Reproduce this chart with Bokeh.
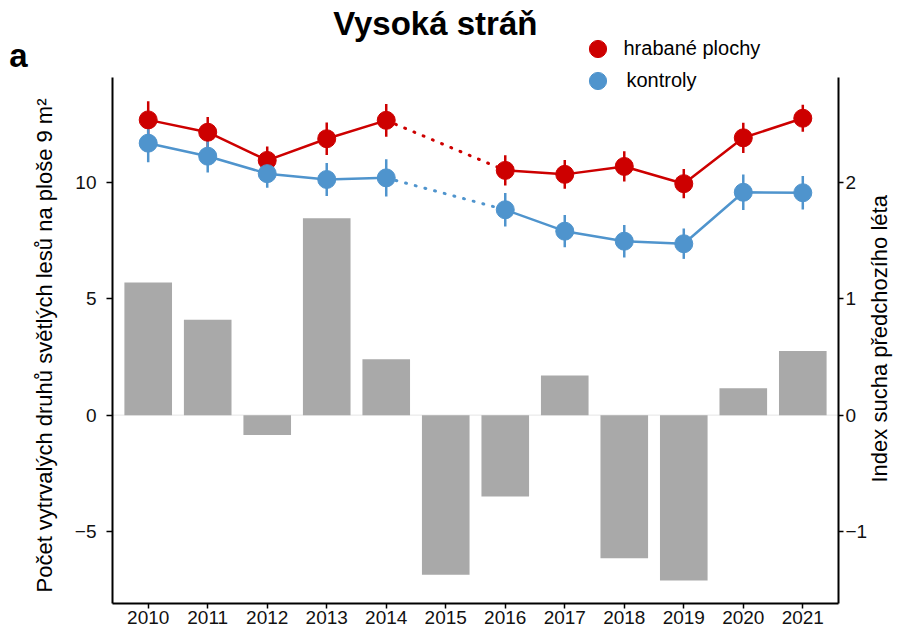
import math
from bokeh.plotting import figure
from bokeh.models import (Range1d, LinearAxis, FixedTicker, Span, Label,
                          Legend, LegendItem)
from bokeh.embed import file_html
from bokeh.resources import INLINE

# ---------------- data ----------------
years = [2010, 2011, 2012, 2013, 2014, 2015, 2016, 2017, 2018, 2019, 2020, 2021]
drought_index = [1.14, 0.82, -0.17, 1.69, 0.48, -1.37, -0.70, 0.34, -1.23, -1.42, 0.23, 0.55]

obs_years = [2010, 2011, 2012, 2013, 2014, 2016, 2017, 2018, 2019, 2020, 2021]
raked_mean = [12.68, 12.15, 10.94, 11.87, 12.66, 10.51, 10.34, 10.68, 9.94, 11.91, 12.75]
raked_err = [0.80, 0.65, 0.60, 0.70, 0.70, 0.65, 0.62, 0.65, 0.63, 0.65, 0.58]
control_mean = [11.68, 11.12, 10.37, 10.12, 10.19, 8.82, 7.90, 7.47, 7.36, 9.57, 9.55]
control_err = [0.82, 0.70, 0.60, 0.71, 0.80, 0.72, 0.69, 0.70, 0.65, 0.76, 0.72]

left_ticks = [-5, 0, 5, 10]
right_ticks = [-1, 0, 1, 2]
gap_index = 4  # last observation before the missing year 2015

LEFT_TITLE = "Počet vytrvalých druhů světlých lesů na ploše 9 m²"
RIGHT_TITLE = "Index sucha předchozího léta"

# ---------------- style / geometry ----------------
FONT = "Liberation Sans"
RED = "#cd0000"
BLUE = "#4f94cd"
BAR = "#a9a9a9"
RATIO = 5.0

W, H = 907, 632
FL, FR, FT, FB = 112, 843, 0, 603        # plot frame in page pixels
AX_TOP = 77                              # where the axis lines end
X0, X1 = 2009.4, 2021.6
Y0, YTOP = -8.09, 14.5                   # data span of the axes
px_y = (FB - AX_TOP) / (YTOP - Y0)
Y1 = YTOP + (AX_TOP - FT) / px_y         # frame extends above the axes for title/legend
px_x = (FR - FL) / (X1 - X0)

def page_x(px):
    return X0 + (px - FL) / px_x

def page_y(py):
    return Y0 + (FB - py) / px_y

p = figure(width=W, height=H, x_range=Range1d(X0, X1), y_range=Range1d(Y0, Y1),
           title=None, output_backend="svg", toolbar_location=None,
           min_border_left=FL, min_border_right=W - FR, min_border_top=FT,
           min_border_bottom=H - FB)
p.extra_y_ranges = {"idx": Range1d(Y0 / RATIO, Y1 / RATIO)}
p.outline_line_color = None
p.xgrid.visible = False
p.ygrid.visible = False
p.background_fill_color = "white"
p.border_fill_color = "white"

# zero line
p.add_layout(Span(location=0, dimension="width", line_color="#e5e5e5",
                  line_width=1, level="underlay"))

# drought bars
p.vbar(x=years, top=drought_index, width=0.8, bottom=0, y_range_name="idx",
       fill_color=BAR, line_color=None)

# error bars
def lo_hi(m, e):
    return [a - b for a, b in zip(m, e)], [a + b for a, b in zip(m, e)]

r_lo, r_hi = lo_hi(raked_mean, raked_err)
c_lo, c_hi = lo_hi(control_mean, control_err)
p.segment(x0=obs_years, y0=r_lo, x1=obs_years, y1=r_hi, line_color=RED, line_width=2.5)
p.segment(x0=obs_years, y0=c_lo, x1=obs_years, y1=c_hi, line_color=BLUE, line_width=2.5)

# lines (solid where consecutive years exist, dotted across the missing year)
for mean, col in ((raked_mean, RED), (control_mean, BLUE)):
    p.line(obs_years[:gap_index + 1], mean[:gap_index + 1], line_color=col, line_width=2.5)
    p.line(obs_years[gap_index + 1:], mean[gap_index + 1:], line_color=col, line_width=2.5)
    p.line(obs_years[gap_index:gap_index + 2], mean[gap_index:gap_index + 2],
           line_color=col, line_width=3, line_dash="1 9", line_cap="round")

# points
r_pts = p.scatter(obs_years, raked_mean, size=18, fill_color=RED, line_color=RED)
c_pts = p.scatter(obs_years, control_mean, size=18, fill_color=BLUE, line_color=BLUE)

# ---------------- axes ----------------
def style_axis(ax):
    ax.axis_line_width = 2
    ax.axis_line_color = "black"
    ax.major_tick_line_width = 1.5
    ax.major_tick_line_color = "black"
    ax.major_tick_out = 6
    ax.major_tick_in = 0
    ax.minor_tick_line_color = None
    ax.major_label_text_font = FONT
    ax.major_label_text_font_size = "19px"
    ax.major_label_text_color = "#111111"

def text_axis(ax, size, style="normal", standoff=0):
    ax.axis_line_color = None
    ax.major_tick_line_color = None
    ax.minor_tick_line_color = None
    ax.major_tick_out = 0
    ax.major_tick_in = 0
    ax.major_label_standoff = standoff
    ax.major_label_text_font = FONT
    ax.major_label_text_font_size = size
    ax.major_label_text_font_style = style
    ax.major_label_text_color = "black"

xa = p.xaxis[0]
xa.ticker = FixedTicker(ticks=years)
xa.major_label_overrides = {y: str(y) for y in years}
style_axis(xa)
xa.major_label_standoff = 2
xa.major_tick_out = 5

ya = p.yaxis[0]
ya.ticker = FixedTicker(ticks=left_ticks)
ya.major_label_overrides = {t: str(t).replace("-", "\u2212") for t in left_ticks}
ya.bounds = (Y0, YTOP)
style_axis(ya)
ya.major_label_standoff = 10

ra = LinearAxis(y_range_name="idx", ticker=FixedTicker(ticks=right_ticks),
                bounds=(Y0 / RATIO, YTOP / RATIO))
ra.major_label_overrides = {t: str(t).replace("-", "\u2212") for t in right_ticks}
style_axis(ra)
ra.major_tick_out = 5
ra.major_label_standoff = 2
p.add_layout(ra, "right")

# left axis title (rotated, centred on the axis span)
ly = round(page_y(345), 3)
lt = LinearAxis(ticker=FixedTicker(ticks=[ly]), major_label_overrides={ly: LEFT_TITLE})
text_axis(lt, "22px", standoff=14)
lt.major_label_orientation = "vertical"
p.add_layout(lt, "left")

# panel letter
a_pos = round(page_y(55), 3)
pa = LinearAxis(ticker=FixedTicker(ticks=[a_pos]), major_label_overrides={a_pos: "a"})
text_axis(pa, "33px", style="bold", standoff=2)
p.add_layout(pa, "left")

# right axis title (rotated, reading upwards from its start)
ry = round(page_y(482), 3)
rt = LinearAxis(ticker=FixedTicker(ticks=[ry]), major_label_overrides={ry: RIGHT_TITLE})
text_axis(rt, "22px", standoff=9)
rt.major_label_orientation = math.pi / 2
p.add_layout(rt, "right")

# ---------------- title & legend ----------------
p.add_layout(Label(x=page_x(437), y=page_y(23), text="Vysoká stráň",
                   text_font=FONT, text_font_size="33px", text_font_style="bold",
                   text_align="center", text_baseline="middle", text_color="black"))

def legend_for(label, rend, cy, standoff):
    return Legend(items=[LegendItem(label=label, renderers=[rend])],
                  location=(575.5 - FL, FB - (cy + 21.5)),
                  glyph_width=43, glyph_height=43,
                  label_standoff=standoff, padding=0, margin=0,
                  label_text_font=FONT, label_text_font_size="20px",
                  label_text_color="black",
                  border_line_color=None, background_fill_alpha=0)

p.add_layout(legend_for("hrabané plochy", r_pts, 48, 5), "center")
p.add_layout(legend_for("kontroly", c_pts, 80, 8), "center")

open("out.html", "w").write(file_html(p, INLINE))
